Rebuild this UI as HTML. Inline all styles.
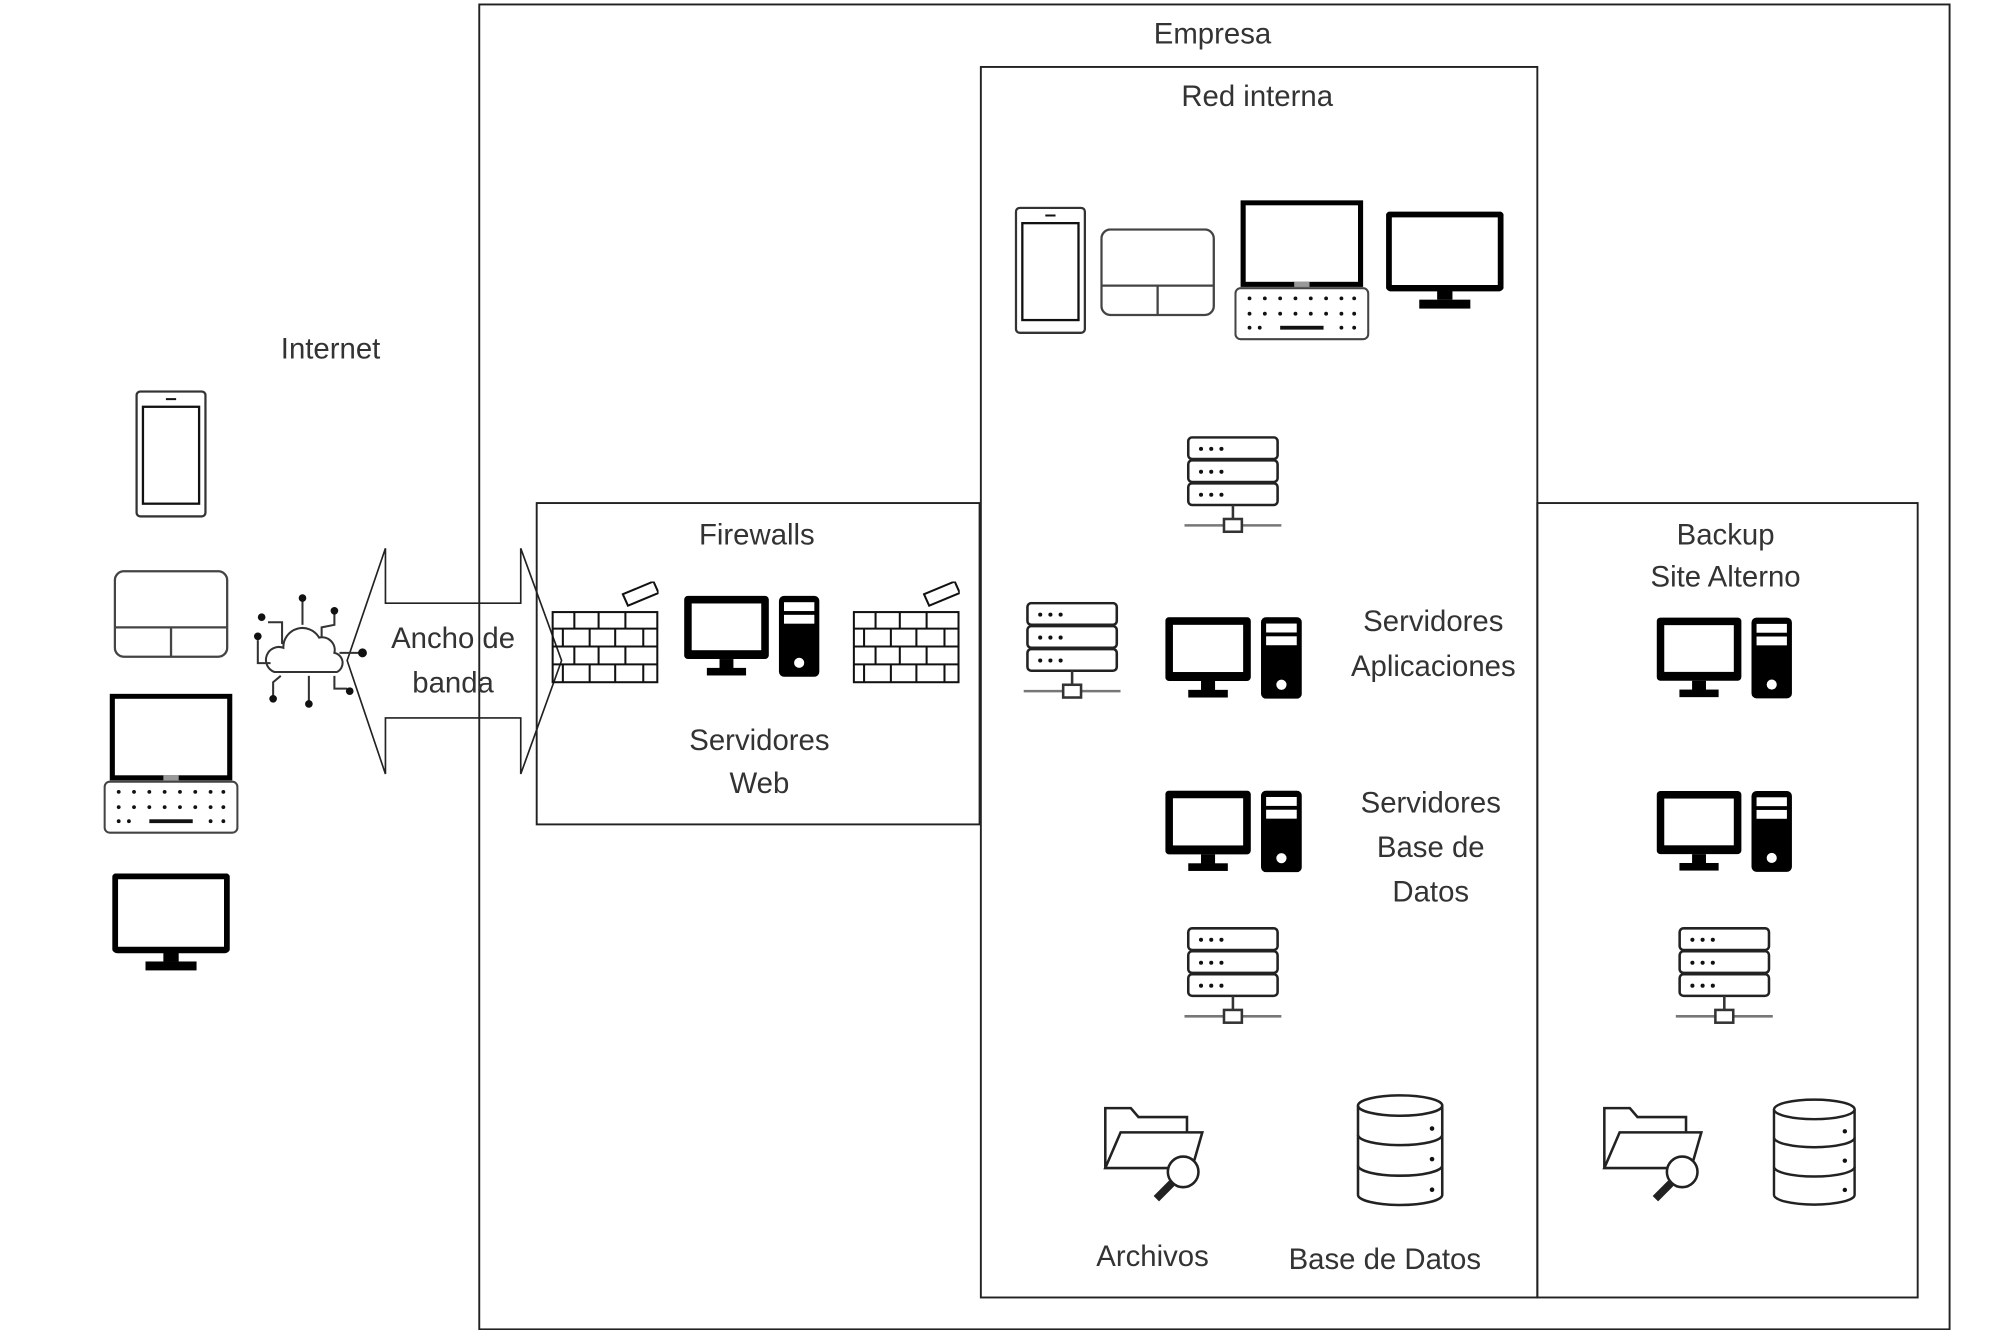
<!DOCTYPE html>
<html><head><meta charset="utf-8"><style>
html,body{margin:0;padding:0;background:#fff;}
svg{display:block;}
text{font-family:"Liberation Sans",sans-serif;font-size:23px;fill:#333;text-anchor:middle;}
</style></head><body>
<svg width="2000" height="1330" viewBox="0 0 1567 1043" preserveAspectRatio="none" xmlns="http://www.w3.org/2000/svg">
<defs>
<symbol id="pc" viewBox="0 0 107 64">
<rect x="0" y="0" width="67" height="50" rx="3" fill="#000"/>
<rect x="6" y="6" width="55" height="37" fill="#fff"/>
<rect x="28" y="50" width="11" height="8" fill="#000"/>
<rect x="18" y="57" width="31" height="6" fill="#000"/>
<rect x="75" y="0" width="32" height="64" rx="4" fill="#000"/>
<rect x="79" y="5" width="24" height="7" fill="#fff"/>
<rect x="79" y="15" width="24" height="7" fill="#fff"/>
<circle cx="91" cy="53" r="4" fill="#fff"/>
</symbol>
<symbol id="srv" viewBox="0 0 76 78">
<g fill="#fff" stroke="#222" stroke-width="2">
<rect x="3" y="1" width="70" height="17" rx="3"/>
<rect x="3" y="19" width="70" height="17" rx="3"/>
<rect x="3" y="37" width="70" height="17" rx="3"/>
</g>
<g fill="#111"><circle cx="13" cy="10" r="1.6"/><circle cx="21" cy="10" r="1.6"/><circle cx="29" cy="10" r="1.6"/>
<circle cx="13" cy="28" r="1.6"/><circle cx="21" cy="28" r="1.6"/><circle cx="29" cy="28" r="1.6"/>
<circle cx="13" cy="46" r="1.6"/><circle cx="21" cy="46" r="1.6"/><circle cx="29" cy="46" r="1.6"/></g>
<line x1="38" y1="54" x2="38" y2="66" stroke="#333" stroke-width="2"/>
<line x1="0" y1="70" x2="76" y2="70" stroke="#777" stroke-width="2"/>
<rect x="31" y="65" width="14" height="10" fill="#fff" stroke="#333" stroke-width="2"/>
</symbol>
<symbol id="fw" viewBox="0 0 84 80">
<g fill="none" stroke="#111" stroke-width="1.6">
<rect x="1" y="24" width="82" height="55"/>
<line x1="1" y1="37" x2="83" y2="37"/><line x1="1" y1="51" x2="83" y2="51"/><line x1="1" y1="65" x2="83" y2="65"/>
<line x1="18" y1="24" x2="18" y2="37"/><line x1="37" y1="24" x2="37" y2="37"/><line x1="58" y1="24" x2="58" y2="37"/>
<line x1="9" y1="37" x2="9" y2="51"/><line x1="30" y1="37" x2="30" y2="51"/><line x1="50" y1="37" x2="50" y2="51"/><line x1="72" y1="37" x2="72" y2="51"/>
<line x1="18" y1="51" x2="18" y2="65"/><line x1="37" y1="51" x2="37" y2="65"/><line x1="58" y1="51" x2="58" y2="65"/>
<line x1="9" y1="65" x2="9" y2="79"/><line x1="30" y1="65" x2="30" y2="79"/><line x1="50" y1="65" x2="50" y2="79"/><line x1="72" y1="65" x2="72" y2="79"/>
<polygon points="56,10 80,0 84,9 60,19"/>
</g>
</symbol>
<symbol id="phone" viewBox="0 0 56 100">
<rect x="1" y="1" width="54" height="98" rx="3" fill="#fff" stroke="#333" stroke-width="1.8"/>
<rect x="6" y="13" width="44" height="76" fill="none" stroke="#111" stroke-width="1.8"/>
<line x1="24" y1="7" x2="32" y2="7" stroke="#111" stroke-width="1.5"/>
</symbol>
<symbol id="pad" viewBox="0 0 90 70">
<rect x="1" y="1" width="88" height="67" rx="7" fill="#fff" stroke="#444" stroke-width="1.8"/>
<line x1="1" y1="45" x2="89" y2="45" stroke="#444" stroke-width="1.8"/>
<line x1="45" y1="45" x2="45" y2="68" stroke="#444" stroke-width="1.8"/>
</symbol>
<symbol id="lap" viewBox="0 0 106 110">
<rect x="7" y="2" width="92" height="64" fill="#fff" stroke="#000" stroke-width="4"/>
<rect x="47" y="64" width="12" height="4" fill="#999"/>
<rect x="1" y="69" width="104" height="40" rx="4" fill="#fff" stroke="#444" stroke-width="1.6"/>
<g fill="#111">
<circle cx="12" cy="77" r="1.5"/><circle cx="24" cy="77" r="1.5"/><circle cx="36" cy="77" r="1.5"/><circle cx="48" cy="77" r="1.5"/><circle cx="60" cy="77" r="1.5"/><circle cx="72" cy="77" r="1.5"/><circle cx="84" cy="77" r="1.5"/><circle cx="94" cy="77" r="1.5"/>
<circle cx="12" cy="89" r="1.5"/><circle cx="24" cy="89" r="1.5"/><circle cx="36" cy="89" r="1.5"/><circle cx="48" cy="89" r="1.5"/><circle cx="60" cy="89" r="1.5"/><circle cx="72" cy="89" r="1.5"/><circle cx="84" cy="89" r="1.5"/><circle cx="94" cy="89" r="1.5"/>
<circle cx="12" cy="100" r="1.5"/><circle cx="20" cy="100" r="1.5"/><rect x="36" y="98.5" width="34" height="3"/><circle cx="84" cy="100" r="1.5"/><circle cx="94" cy="100" r="1.5"/>
</g>
</symbol>
<symbol id="mon" viewBox="0 0 92 78">
<rect x="2" y="2" width="88" height="58" rx="2" fill="#fff" stroke="#000" stroke-width="5"/>
<rect x="40" y="60" width="12" height="9" fill="#000"/>
<rect x="26" y="69" width="40" height="7" fill="#000"/>
</symbol>
<symbol id="db" viewBox="0 0 70 90">
<g fill="#fff" stroke="#222" stroke-width="2">
<path d="M2,10 V80 A33,8 0 0 0 68,80 V10"/>
<ellipse cx="35" cy="10" rx="33" ry="8"/>
<path d="M2,33 A33,8 0 0 0 68,33" fill="none"/>
<path d="M2,57 A33,8 0 0 0 68,57" fill="none"/>
</g>
<g fill="#111"><circle cx="60" cy="28" r="1.8"/><circle cx="60" cy="52" r="1.8"/><circle cx="60" cy="76" r="1.8"/></g>
</symbol>
<symbol id="fold" viewBox="0 0 82 82">
<g fill="#fff" stroke="#222" stroke-width="2">
<path d="M2,50 V3 H22 L28,10 H66 V24"/>
<path d="M2,50 L14,22 H78 L70,50 Z"/>
<circle cx="63" cy="53" r="12"/>
<line x1="54" y1="62" x2="42" y2="74" stroke-width="6"/>
</g>
</symbol>
</defs>

<rect x="375.5" y="3.5" width="1152" height="1039" fill="none" stroke="#222" stroke-width="1.5"/>
<rect x="768.5" y="52.5" width="436" height="965" fill="none" stroke="#222" stroke-width="1.5"/>
<rect x="420.5" y="394.5" width="347" height="252" fill="none" stroke="#222" stroke-width="1.5"/>
<rect x="1204.5" y="394.5" width="298" height="623" fill="none" stroke="#222" stroke-width="1.5"/>

<text x="950" y="34">Empresa</text>
<text x="985" y="83">Red interna</text>
<text x="593" y="427">Firewalls</text>
<text x="1352" y="427">Backup</text>
<text x="1352" y="460">Site Alterno</text>
<text x="259" y="281">Internet</text>

<polygon points="272,518 302,430 302,473 408,473 408,430 440,518 408,607 408,563 302,563 302,607" fill="none" stroke="#222" stroke-width="1.3"/>
<text x="355" y="508">Ancho de</text>
<text x="355" y="543">banda</text>

<g fill="none" stroke="#333" stroke-width="1.6">
<path d="M215,527 A10,10 0 0 1 222,508 A15,15 0 0 1 250,500 A10,10 0 0 1 262,512 A8,8 0 0 1 264,527 Z"/>
<path d="M237,490 V470"/><path d="M221,505 V488 H210"/><path d="M252,500 V492 L262,490 V481"/>
<path d="M212,520 H202 V502"/><path d="M266,512 H282"/><path d="M220,530 L214,535 V546"/>
<path d="M242,530 V550"/><path d="M262,530 V540 H272"/>
</g>
<g fill="#111"><circle cx="237" cy="469" r="3"/><circle cx="205" cy="484" r="3"/><circle cx="262" cy="479" r="3"/><circle cx="202" cy="499" r="3"/><circle cx="284" cy="512" r="3.5"/><circle cx="214" cy="548" r="3"/><circle cx="242" cy="552" r="3"/><circle cx="274" cy="542" r="3"/></g>

<use href="#phone" x="106" y="306" width="56" height="100"/>
<use href="#pad" x="89" y="447" width="90" height="70"/>
<use href="#lap" x="81" y="544" width="106" height="110"/>
<use href="#mon" x="88" y="685" width="92" height="78"/>

<use href="#fw" x="432" y="456" width="84" height="80"/>
<use href="#pc" x="536" y="467" width="106" height="64"/>
<use href="#fw" x="668" y="456" width="84" height="80"/>
<text x="595" y="588">Servidores</text>
<text x="595" y="622">Web</text>

<use href="#phone" x="795" y="162" width="56" height="100"/>
<use href="#pad" x="862" y="179" width="90" height="70"/>
<use href="#lap" x="967" y="157" width="106" height="110"/>
<use href="#mon" x="1086" y="166" width="92" height="78"/>
<use href="#srv" x="928" y="342" width="76" height="78"/>
<use href="#srv" x="802" y="472" width="76" height="78"/>
<use href="#pc" x="913" y="484" width="107" height="64"/>
<text x="1123" y="495">Servidores</text>
<text x="1123" y="530">Aplicaciones</text>
<use href="#pc" x="913" y="620" width="107" height="64"/>
<text x="1121" y="637">Servidores</text>
<text x="1121" y="672">Base de</text>
<text x="1121" y="707">Datos</text>
<use href="#srv" x="928" y="727" width="76" height="78"/>
<use href="#fold" x="864" y="866" width="82" height="82"/>
<use href="#db" x="1062" y="857" width="70" height="90"/>
<text x="903" y="993">Archivos</text>
<text x="1085" y="995">Base de Datos</text>

<use href="#pc" x="1298" y="484" width="106" height="64"/>
<use href="#pc" x="1298" y="620" width="106" height="64"/>
<use href="#srv" x="1312" y="727" width="78" height="78"/>
<use href="#fold" x="1255" y="866" width="82" height="82"/>
<use href="#db" x="1388" y="859" width="67" height="89"/>
</svg>
</body></html>
